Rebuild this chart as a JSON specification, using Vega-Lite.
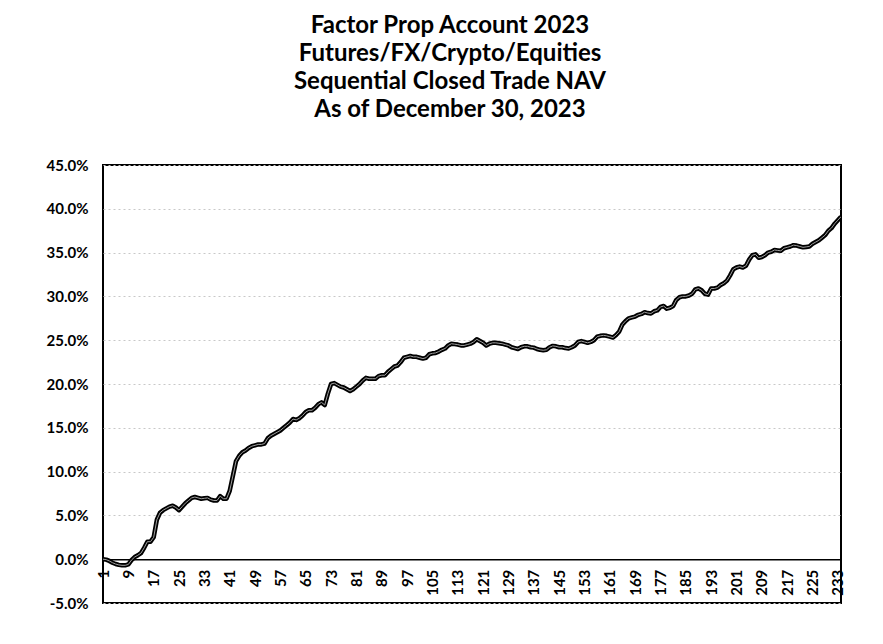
{
  "$schema": "https://vega.github.io/schema/vega-lite/v6.json",
  "width": 738,
  "height": 438,
  "autosize": {"type": "none"},
  "padding": {"left": 103, "top": 165, "right": 42, "bottom": 41},
  "background": "white",
  "title": {
    "text": ["Factor Prop Account 2023", "Futures/FX/Crypto/Equities", "Sequential Closed Trade NAV", "As of December 30, 2023"],
    "font": "Lato",
    "fontSize": 24,
    "fontWeight": "bold",
    "lineHeight": 28,
    "anchor": "middle",
    "frame": "group",
    "dx": -22,
    "offset": 36,
    "color": "black"
  },
  "data": {
    "values": [
      {"n": 1, "v": 0.0}, {"n": 2, "v": -0.05}, {"n": 3, "v": -0.2}, {"n": 4, "v": -0.4}, {"n": 5, "v": -0.55},
      {"n": 6, "v": -0.65}, {"n": 7, "v": -0.7}, {"n": 8, "v": -0.7}, {"n": 9, "v": -0.6}, {"n": 10, "v": -0.1},
      {"n": 11, "v": 0.25}, {"n": 12, "v": 0.45}, {"n": 13, "v": 0.7}, {"n": 14, "v": 1.3}, {"n": 15, "v": 2.0},
      {"n": 16, "v": 2.0}, {"n": 17, "v": 2.5}, {"n": 18, "v": 4.5}, {"n": 19, "v": 5.3}, {"n": 20, "v": 5.6},
      {"n": 21, "v": 5.8}, {"n": 22, "v": 6.0}, {"n": 23, "v": 6.1}, {"n": 24, "v": 5.9}, {"n": 25, "v": 5.6},
      {"n": 26, "v": 6.0}, {"n": 27, "v": 6.4}, {"n": 28, "v": 6.7}, {"n": 29, "v": 7.0}, {"n": 30, "v": 7.1},
      {"n": 31, "v": 7.0}, {"n": 32, "v": 6.9}, {"n": 33, "v": 6.95}, {"n": 34, "v": 7.0}, {"n": 35, "v": 6.8},
      {"n": 36, "v": 6.7}, {"n": 37, "v": 6.7}, {"n": 38, "v": 7.2}, {"n": 39, "v": 6.9}, {"n": 40, "v": 6.9},
      {"n": 41, "v": 7.8}, {"n": 42, "v": 9.5}, {"n": 43, "v": 11.2}, {"n": 44, "v": 11.8}, {"n": 45, "v": 12.2},
      {"n": 46, "v": 12.4}, {"n": 47, "v": 12.7}, {"n": 48, "v": 12.9}, {"n": 49, "v": 13.0}, {"n": 50, "v": 13.1},
      {"n": 51, "v": 13.1}, {"n": 52, "v": 13.2}, {"n": 53, "v": 13.8}, {"n": 54, "v": 14.1}, {"n": 55, "v": 14.3},
      {"n": 56, "v": 14.5}, {"n": 57, "v": 14.7}, {"n": 58, "v": 15.0}, {"n": 59, "v": 15.3}, {"n": 60, "v": 15.6},
      {"n": 61, "v": 16.0}, {"n": 62, "v": 15.9}, {"n": 63, "v": 16.1}, {"n": 64, "v": 16.4}, {"n": 65, "v": 16.8},
      {"n": 66, "v": 17.0}, {"n": 67, "v": 17.0}, {"n": 68, "v": 17.3}, {"n": 69, "v": 17.7}, {"n": 70, "v": 17.9},
      {"n": 71, "v": 17.6}, {"n": 72, "v": 18.9}, {"n": 73, "v": 20.0}, {"n": 74, "v": 20.1}, {"n": 75, "v": 19.9},
      {"n": 76, "v": 19.7}, {"n": 77, "v": 19.6}, {"n": 78, "v": 19.4}, {"n": 79, "v": 19.2}, {"n": 80, "v": 19.4},
      {"n": 81, "v": 19.7}, {"n": 82, "v": 20.0}, {"n": 83, "v": 20.4}, {"n": 84, "v": 20.7}, {"n": 85, "v": 20.6},
      {"n": 86, "v": 20.6}, {"n": 87, "v": 20.6}, {"n": 88, "v": 20.9}, {"n": 89, "v": 21.0}, {"n": 90, "v": 21.0},
      {"n": 91, "v": 21.4}, {"n": 92, "v": 21.7}, {"n": 93, "v": 22.0}, {"n": 94, "v": 22.1}, {"n": 95, "v": 22.5},
      {"n": 96, "v": 23.0}, {"n": 97, "v": 23.1}, {"n": 98, "v": 23.2}, {"n": 99, "v": 23.1}, {"n": 100, "v": 23.1},
      {"n": 101, "v": 23.0}, {"n": 102, "v": 22.9}, {"n": 103, "v": 23.0}, {"n": 104, "v": 23.4}, {"n": 105, "v": 23.5},
      {"n": 106, "v": 23.55}, {"n": 107, "v": 23.7}, {"n": 108, "v": 23.9}, {"n": 109, "v": 24.05}, {"n": 110, "v": 24.4},
      {"n": 111, "v": 24.6}, {"n": 112, "v": 24.55}, {"n": 113, "v": 24.5}, {"n": 114, "v": 24.4}, {"n": 115, "v": 24.4},
      {"n": 116, "v": 24.5}, {"n": 117, "v": 24.6}, {"n": 118, "v": 24.8}, {"n": 119, "v": 25.1}, {"n": 120, "v": 24.9},
      {"n": 121, "v": 24.7}, {"n": 122, "v": 24.4}, {"n": 123, "v": 24.6}, {"n": 124, "v": 24.7}, {"n": 125, "v": 24.7},
      {"n": 126, "v": 24.65}, {"n": 127, "v": 24.6}, {"n": 128, "v": 24.5}, {"n": 129, "v": 24.4}, {"n": 130, "v": 24.2},
      {"n": 131, "v": 24.1}, {"n": 132, "v": 24.0}, {"n": 133, "v": 24.2}, {"n": 134, "v": 24.3}, {"n": 135, "v": 24.3},
      {"n": 136, "v": 24.2}, {"n": 137, "v": 24.15}, {"n": 138, "v": 24.0}, {"n": 139, "v": 23.9}, {"n": 140, "v": 23.85},
      {"n": 141, "v": 23.9}, {"n": 142, "v": 24.2}, {"n": 143, "v": 24.35}, {"n": 144, "v": 24.3}, {"n": 145, "v": 24.2},
      {"n": 146, "v": 24.2}, {"n": 147, "v": 24.1}, {"n": 148, "v": 24.05}, {"n": 149, "v": 24.2}, {"n": 150, "v": 24.4},
      {"n": 151, "v": 24.8}, {"n": 152, "v": 24.9}, {"n": 153, "v": 24.8}, {"n": 154, "v": 24.7}, {"n": 155, "v": 24.8},
      {"n": 156, "v": 25.0}, {"n": 157, "v": 25.4}, {"n": 158, "v": 25.5}, {"n": 159, "v": 25.55}, {"n": 160, "v": 25.5},
      {"n": 161, "v": 25.4}, {"n": 162, "v": 25.3}, {"n": 163, "v": 25.6}, {"n": 164, "v": 26.0}, {"n": 165, "v": 26.8},
      {"n": 166, "v": 27.2}, {"n": 167, "v": 27.5}, {"n": 168, "v": 27.6}, {"n": 169, "v": 27.7}, {"n": 170, "v": 27.9},
      {"n": 171, "v": 28.0}, {"n": 172, "v": 28.2}, {"n": 173, "v": 28.1}, {"n": 174, "v": 28.05}, {"n": 175, "v": 28.3},
      {"n": 176, "v": 28.4}, {"n": 177, "v": 28.8}, {"n": 178, "v": 28.9}, {"n": 179, "v": 28.6}, {"n": 180, "v": 28.7},
      {"n": 181, "v": 28.9}, {"n": 182, "v": 29.6}, {"n": 183, "v": 29.9}, {"n": 184, "v": 30.0}, {"n": 185, "v": 30.0},
      {"n": 186, "v": 30.1}, {"n": 187, "v": 30.3}, {"n": 188, "v": 30.8}, {"n": 189, "v": 30.9}, {"n": 190, "v": 30.7},
      {"n": 191, "v": 30.3}, {"n": 192, "v": 30.2}, {"n": 193, "v": 30.9}, {"n": 194, "v": 30.9}, {"n": 195, "v": 31.0},
      {"n": 196, "v": 31.3}, {"n": 197, "v": 31.5}, {"n": 198, "v": 31.8}, {"n": 199, "v": 32.4}, {"n": 200, "v": 33.1},
      {"n": 201, "v": 33.3}, {"n": 202, "v": 33.4}, {"n": 203, "v": 33.3}, {"n": 204, "v": 33.5}, {"n": 205, "v": 34.2},
      {"n": 206, "v": 34.7}, {"n": 207, "v": 34.8}, {"n": 208, "v": 34.4}, {"n": 209, "v": 34.5}, {"n": 210, "v": 34.7},
      {"n": 211, "v": 35.0}, {"n": 212, "v": 35.1}, {"n": 213, "v": 35.3}, {"n": 214, "v": 35.25}, {"n": 215, "v": 35.2},
      {"n": 216, "v": 35.5}, {"n": 217, "v": 35.6}, {"n": 218, "v": 35.7}, {"n": 219, "v": 35.85}, {"n": 220, "v": 35.8},
      {"n": 221, "v": 35.7}, {"n": 222, "v": 35.6}, {"n": 223, "v": 35.65}, {"n": 224, "v": 35.7}, {"n": 225, "v": 36.0},
      {"n": 226, "v": 36.2}, {"n": 227, "v": 36.4}, {"n": 228, "v": 36.7}, {"n": 229, "v": 37.0}, {"n": 230, "v": 37.5},
      {"n": 231, "v": 37.8}, {"n": 232, "v": 38.3}, {"n": 233, "v": 38.7}, {"n": 234, "v": 39.1}
    ]
  },
  "encoding": {
    "x": {
      "field": "n",
      "type": "quantitative",
      "scale": {"domain": [1, 234], "nice": false, "zero": false},
      "axis": {
        "values": [1, 9, 17, 25, 33, 41, 49, 57, 65, 73, 81, 89, 97, 105, 113, 121, 129, 137, 145, 153, 161, 169, 177, 185, 193, 201, 209, 217, 225, 233],
        "labelAngle": -90,
        "offset": -43.8,
        "ticks": false,
        "grid": false,
        "domainColor": "black",
        "domainWidth": 1.5,
        "labelFont": "Lato",
        "labelFontSize": 15,
        "labelFontWeight": "bold",
        "labelColor": "black",
        "labelPadding": 10,
        "labelOverlap": false,
        "labelBound": false,
        "labelFlush": false,
        "title": null
      }
    },
    "y": {
      "field": "v",
      "type": "quantitative",
      "scale": {"domain": [-5, 45], "nice": false, "zero": false},
      "axis": {
        "values": [-5, 0, 5, 10, 15, 20, 25, 30, 35, 40, 45],
        "labelExpr": "replace(format(datum.value, '.1f'), '\u2212', '-') + '%'",
        "ticks": false,
        "domain": false,
        "grid": true,
        "gridColor": "#c8c8c8",
        "gridDash": [2, 3],
        "gridWidth": 1,
        "labelFont": "Lato",
        "labelFontSize": 15,
        "labelFontWeight": "bold",
        "labelColor": "black",
        "labelPadding": 15,
        "labelOverlap": false,
        "title": null
      }
    }
  },
  "layer": [
    {"mark": {"type": "line", "color": "black", "strokeWidth": 4.5, "strokeJoin": "round", "clip": true}},
    {"mark": {"type": "line", "color": "#a0a0a0", "strokeWidth": 1, "strokeJoin": "round", "clip": true}}
  ],
  "config": {
    "view": {"stroke": "black", "strokeWidth": 2}
  }
}
